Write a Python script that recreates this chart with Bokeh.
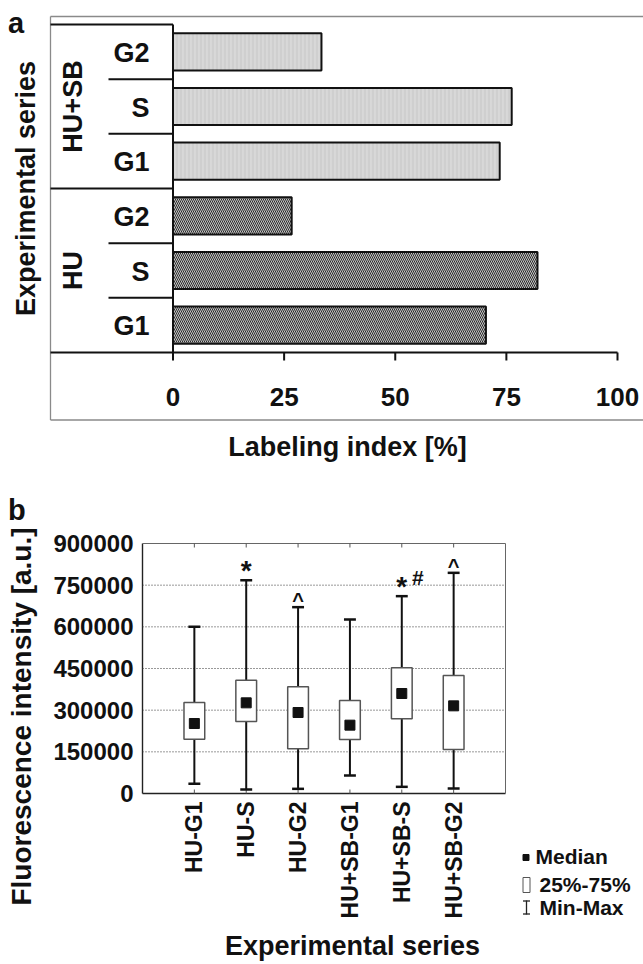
import math
import numpy as np
from bokeh.plotting import figure
from bokeh.models import Range1d
from bokeh.layouts import column
from bokeh.embed import file_html
from bokeh.resources import INLINE
from bokeh.core.properties import value

# ---------------- data: panel a ----------------
a_groups = ["HU", "HU", "HU", "HU+SB", "HU+SB", "HU+SB"]
a_phases = ["G1", "S", "G2", "G1", "S", "G2"]
a_values = [70.4, 82.0, 26.7, 73.5, 76.2, 33.4]
a_ticks = [0, 25, 50, 75, 100]
a_group_names = ["HU", "HU+SB"]
a_xlabel = "Labeling index [%]"
a_ylabel = "Experimental series"

# ---------------- data: panel b ----------------
b_series = ["HU-G1", "HU-S", "HU-G2", "HU+SB-G1", "HU+SB-S", "HU+SB-G2"]
b_min = [34800, 14400, 16800, 64800, 24000, 18000]
b_q1 = [195600, 259200, 160800, 194400, 268800, 158400]
b_median = [252000, 326400, 291600, 246000, 360000, 315600]
b_q3 = [327600, 408000, 384000, 334800, 452400, 424800]
b_max = [600000, 768000, 670800, 626400, 710400, 794400]
b_yticks = [0, 150000, 300000, 450000, 600000, 750000, 900000]
b_star = ["HU-S", "HU+SB-S"]
b_caret = ["HU-G2", "HU+SB-G2"]
b_hash = ["HU+SB-S"]
b_xlabel = "Experimental series"
b_ylabel = "Fluorescence intensity [a.u.]"
legend_labels = ["Median", "25%-75%", "Min-Max"]

FV = value("Liberation Sans")
INK = "#111111"
W = 643


def txt(p, **kw):
    kw.setdefault("text_font", FV)
    kw.setdefault("text_font_style", "bold")
    kw.setdefault("text_color", INK)
    kw.setdefault("text_baseline", "middle")
    return p.text(**kw)


def bare_figure(width, height, xr, yr):
    p = figure(width=width, height=height, x_range=xr, y_range=yr,
               x_axis_location=None, y_axis_location=None,
               output_backend="svg", toolbar_location=None,
               min_border_left=0, min_border_right=0, min_border_top=0, min_border_bottom=0)
    p.outline_line_color = None
    p.xgrid.visible = False
    p.ygrid.visible = False
    p.background_fill_color = "white"
    p.border_fill_color = "white"
    return p


# ================= panel a =================
A_H = 478
A_X0, A_X100 = 172.5, 617.0      # pixel of 0 % and 100 %
A_Y0, A_Y6 = 352.0, 24.0         # pixel of bottom / top row boundary
n_rows = len(a_values)


def ax(px):
    return (px - A_X0) / (A_X100 - A_X0) * a_ticks[-1]


def ay(py):
    return (A_Y0 - py) / (A_Y0 - A_Y6) * n_rows


pa = bare_figure(W, A_H, Range1d(ax(0), ax(W)), Range1d(ay(A_H), ay(0)))

ypos = np.arange(n_rows) + 0.5
vals = np.array(a_values)
hu_idx = [i for i, g in enumerate(a_groups) if g == "HU"]
sb_idx = [i for i, g in enumerate(a_groups) if g == "HU+SB"]

# outer gray chart border
xl, xr, yt, yb = ax(50), ax(W), ay(16), ay(419.5)
pa.segment(x0=[xl, xl, xl], y0=[yt, yt, yb], x1=[xr, xl, xr], y1=[yt, yb, yb],
           line_color="#8a8a8a", line_width=1.3)

# bars
pa.hbar(y=ypos[hu_idx], left=0, right=vals[hu_idx], height=0.68,
        fill_color="#c4c4c4", hatch_pattern="left_diagonal_line", hatch_color="#2b2b2b",
        hatch_scale=4, hatch_weight=1, line_color=INK, line_width=2)
pa.hbar(y=ypos[sb_idx], left=0, right=vals[sb_idx], height=0.68,
        fill_color="#cfcfcf", hatch_pattern="vertical_line", hatch_color="#e0e0e0",
        hatch_scale=4, hatch_weight=1, line_color=INK, line_width=2)

# group / row structure and value axis
gsize = len(hu_idx)
grp_bounds = [0, gsize, n_rows]
x_struct, x_sub, y_tick = ax(50), ax(108), ay(360)
pa.segment(x0=[x_struct] * 3, y0=grp_bounds, x1=[a_ticks[-1], 0, 0], y1=grp_bounds,
           line_color=INK, line_width=2)
sub_b = [b for b in range(1, n_rows) if b not in grp_bounds]
pa.segment(x0=[x_sub] * len(sub_b), y0=sub_b, x1=[0] * len(sub_b), y1=sub_b,
           line_color=INK, line_width=2)
pa.segment(x0=a_ticks, y0=[0] * len(a_ticks), x1=a_ticks, y1=[y_tick] * len(a_ticks),
           line_color=INK, line_width=2)
pa.segment(x0=[0], y0=[n_rows], x1=[0], y1=[0], line_color=INK, line_width=2)

# tick labels
txt(pa, x=a_ticks, y=[ay(396)] * len(a_ticks), text=[str(t) for t in a_ticks],
    text_align="center", text_font_size="26px")
# phase labels
txt(pa, x=[ax(149)] * n_rows, y=ypos, text=a_phases, text_align="right",
    y_offset=1, text_font_size="27px")
# group labels
g_centers = [float(np.mean(ypos[[i for i, g in enumerate(a_groups) if g == name]]))
             for name in a_group_names]
txt(pa, x=[ax(72.5)] * len(a_group_names), y=g_centers, text=a_group_names,
    angle=math.pi / 2, text_align="center", text_font_size="27px")
# panel letter and titles
txt(pa, x=[ax(7.5)], y=[ay(22.7)], text=["a"], text_align="left", text_font_size="29px")
txt(pa, x=[ax(25)], y=[ay(188)], text=[a_ylabel], angle=math.pi / 2,
    text_align="center", text_font_size="27px")
txt(pa, x=[ax(347)], y=[ay(446)], text=[a_xlabel], text_align="center",
    text_font_size="27px")

# ================= panel b =================
B_TOP = A_H
B_H = 964 - A_H
B_FL, B_FR, B_FT, B_FB = 142, 505, 543, 793
nb = len(b_series)
xs = np.arange(1, nb + 1)
YMAX = b_yticks[-1]


def bx(px):
    return (px - B_FL) / (B_FR - B_FL) * (nb + 1)


def by(py):
    return (B_FB - py) / (B_FB - B_FT) * YMAX


pb = bare_figure(W, B_H, Range1d(bx(0), bx(W)), Range1d(by(B_TOP + B_H), by(B_TOP)))

# plot box
pb.segment(x0=[0, 0], y0=[0, 0], x1=[0, nb + 1], y1=[YMAX, 0],
           line_color="#222222", line_width=1.4)
pb.segment(x0=[0, nb + 1], y0=[YMAX, 0], x1=[nb + 1, nb + 1], y1=[YMAX, YMAX],
           line_color="#666666", line_width=1)
# dotted grid
gy = b_yticks[1:-1]
pb.segment(x0=[0] * len(gy), y0=gy, x1=[nb + 1] * len(gy), y1=gy,
           line_color="#333333", line_width=1, line_dash="1 2")
# small inward ticks at categories (top and bottom)
tick_len = by(B_FB - 4)
pb.segment(x0=xs, y0=[0] * nb, x1=xs, y1=[tick_len] * nb, line_color="#555555", line_width=1)
pb.segment(x0=xs, y0=[YMAX] * nb, x1=xs, y1=[YMAX - tick_len] * nb,
           line_color="#555555", line_width=1)

# whiskers and caps
pb.segment(x0=xs, y0=b_min, x1=xs, y1=b_max, line_color=INK, line_width=2)
pb.segment(x0=xs - 0.115, y0=b_min, x1=xs + 0.115, y1=b_min, line_color=INK, line_width=2.5)
pb.segment(x0=xs - 0.115, y0=b_max, x1=xs + 0.115, y1=b_max, line_color=INK, line_width=2.5)
# boxes
pb.vbar(x=xs, width=0.4, bottom=b_q1, top=b_q3, fill_color="white",
        line_color="#555555", line_width=1.5)
# medians
pb.scatter(x=xs, y=b_median, marker="square", size=10, color=INK)

# significance marks
idx = {s: i for i, s in enumerate(b_series)}
txt(pb, x=[xs[idx[s]] for s in b_star], y=[b_max[idx[s]] for s in b_star],
    text=["*"] * len(b_star), text_align="center", y_offset=-10, text_font_size="28px")
txt(pb, x=[xs[idx[s]] for s in b_caret], y=[b_max[idx[s]] for s in b_caret],
    text=["^"] * len(b_caret), text_align="center", y_offset=-7, text_font_size="20px")
txt(pb, x=[xs[idx[s]] for s in b_hash], y=[b_max[idx[s]] for s in b_hash],
    text=["#"] * len(b_hash), text_align="center", x_offset=16, y_offset=-19,
    text_font_size="21px")

# axis tick labels
txt(pb, x=[bx(133)] * len(b_yticks), y=b_yticks, text=[str(t) for t in b_yticks],
    text_align="right", text_font_size="24px")
txt(pb, x=xs, y=[by(801)] * nb, text=b_series, angle=math.pi / 2, text_align="right",
    text_font_size="23px")

# panel letter and axis titles
txt(pb, x=[bx(7.5)], y=[by(509)], text=["b"], text_align="left", text_font_size="29px")
txt(pb, x=[bx(21)], y=[by(716)], text=[b_ylabel], angle=math.pi / 2,
    text_align="center", text_font_size="28px")
txt(pb, x=[bx(352)], y=[by(945)], text=[b_xlabel], text_align="center",
    text_font_size="27px")

# legend
pb.scatter(x=[bx(525.5)], y=[by(857)], marker="square", size=6, color=INK)
pb.quad(left=[bx(522.5)], right=[bx(529.5)], top=[by(877)], bottom=[by(892)],
        fill_color="white", line_color="#555555", line_width=1)
pb.segment(x0=[bx(526), bx(522.5), bx(522.5)], y0=[by(900), by(900.5), by(913.5)],
           x1=[bx(526), bx(529.5), bx(529.5)], y1=[by(914), by(900.5), by(913.5)],
           line_color="#222222", line_width=1.3)
txt(pb, x=[bx(535), bx(539), bx(539)], y=[by(856), by(884), by(907)], text=legend_labels,
    text_align="left", text_font_size="21px")

layout = column(pa, pb)
open("out.html", "w").write(file_html(layout, INLINE))
